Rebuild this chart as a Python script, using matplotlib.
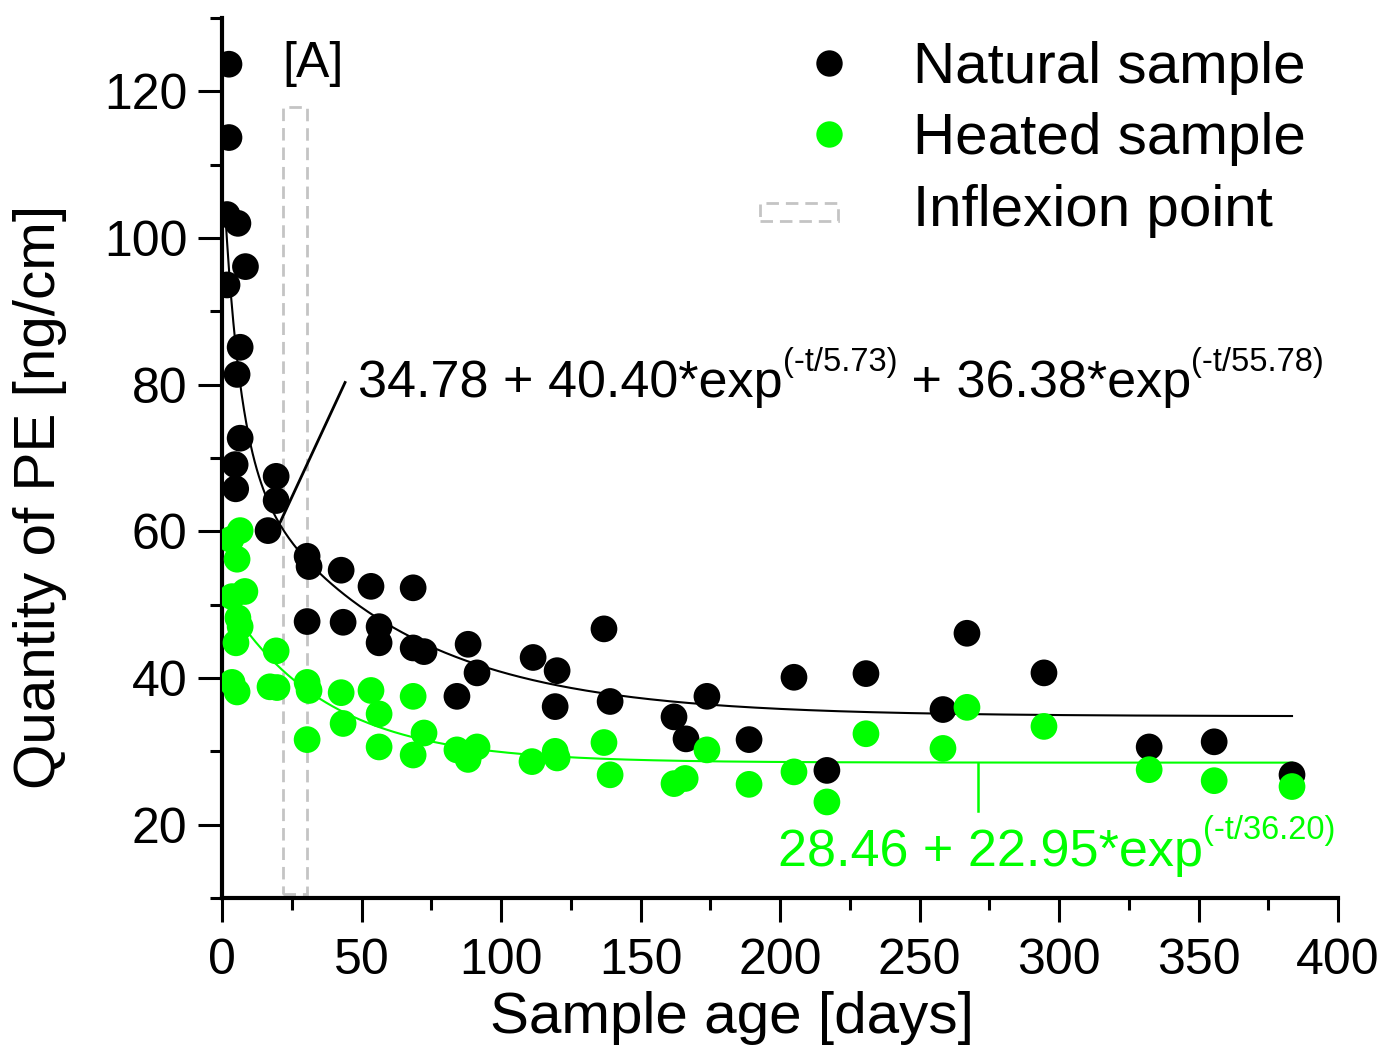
import numpy as np
import matplotlib
matplotlib.use('Agg')
import matplotlib.pyplot as plt
from matplotlib.patches import Rectangle, Patch
from matplotlib.lines import Line2D
from matplotlib.legend_handler import HandlerPatch
from matplotlib.ticker import MultipleLocator

plt.rcParams['font.family'] = ['Liberation Sans', 'DejaVu Sans']

# ---------------- data ----------------
natural_days = [2.5, 2.5, 1.8, 5.7, 1.8, 8.4, 6.5, 5.4, 6.5, 4.7, 4.9, 19.4, 19.4, 16.5,
                30.5, 31.2, 42.7, 53.4, 68.5, 30.5, 43.4, 56.3, 56.3, 68.5, 72.4, 88.2,
                91.4, 84.2, 111.5, 120.1, 119.4, 136.9, 139.1, 162.0, 166.3, 173.8,
                188.9, 205.0, 216.8, 230.8, 258.4, 267.0, 294.6, 332.3, 355.6, 383.5]
natural_pe = [123.7, 113.7, 103.2, 102.0, 93.6, 96.1, 85.1, 81.4, 72.7, 69.1, 65.8, 67.5,
              64.2, 60.1, 56.6, 55.2, 54.7, 52.5, 52.3, 47.7, 47.6, 47.0, 44.8, 44.1, 43.6,
              44.6, 40.7, 37.5, 42.8, 41.0, 36.1, 46.7, 36.8, 34.7, 31.7, 37.5, 31.6, 40.1,
              27.4, 40.6, 35.7, 46.1, 40.7, 30.6, 31.3, 26.8]

heated_days = [6.5, 3.2, 5.4, 8.2, 3.6, 5.7, 6.5, 5.0, 19.4, 3.6, 5.4, 17.2, 19.7, 30.5,
               31.2, 30.5, 42.7, 43.4, 53.4, 56.3, 56.3, 68.5, 68.5, 72.4, 84.2, 88.2, 91.4,
               111.1, 119.4, 120.1, 136.9, 139.1, 162.0, 166.0, 173.8, 188.9, 205.0, 216.8,
               230.8, 258.4, 267.0, 294.6, 332.3, 355.6, 383.5]
heated_pe = [60.1, 58.9, 56.2, 51.8, 51.1, 48.2, 47.0, 44.8, 43.7, 39.4, 38.1, 38.8, 38.7,
             39.4, 38.3, 31.6, 38.0, 33.8, 38.3, 35.1, 30.6, 37.5, 29.5, 32.5, 30.2, 28.9,
             30.6, 28.6, 30.0, 29.1, 31.2, 26.8, 25.6, 26.3, 30.2, 25.5, 27.2, 23.1, 32.4,
             30.4, 36.0, 33.4, 27.5, 26.0, 25.2]

# fit parameters printed on the chart
nat_fit = (34.78, 40.40, 5.73, 36.38, 55.78)
heat_fit = (28.46, 22.95, 36.20)
inflexion_days = (22.0, 30.5)
inflexion_pe = (10.5, 117.8)

x_ticks = [0, 50, 100, 150, 200, 250, 300, 350, 400]
y_ticks = [20, 40, 60, 80, 100, 120]

GREEN = '#00ff00'
GRAY = '#c4c4c4'

# ---------------- figure ----------------
fig = plt.figure(figsize=(13.85, 10.47), dpi=100)
ax = fig.add_axes([0.1603, 0.1423, 0.8058, 0.8405])

t_n = np.linspace(1.0, max(natural_days), 500)
a, b, c, d, e = nat_fit
ax.plot(t_n, a + b * np.exp(-t_n / c) + d * np.exp(-t_n / e), color='black', lw=1.5, zorder=2)
t_h = np.linspace(0.5, max(heated_days), 500)
a2, b2, c2 = heat_fit
ax.plot(t_h, a2 + b2 * np.exp(-t_h / c2), color=GREEN, lw=1.5, zorder=2)

ax.scatter(natural_days, natural_pe, s=370, color='black', edgecolors='none', zorder=3)
ax.scatter(heated_days, heated_pe, s=370, color=GREEN, edgecolors='none', zorder=4)

rect = Rectangle((inflexion_days[0], inflexion_pe[0]), inflexion_days[1] - inflexion_days[0],
                 inflexion_pe[1] - inflexion_pe[0], fill=False, edgecolor=GRAY,
                 lw=2.0, linestyle=(0, (4.5, 2.5)), zorder=1)
ax.add_patch(rect)

ax.set_xlim(0, 400)
ax.set_ylim(10, 130)
ax.set_xticks(x_ticks)
ax.set_yticks(y_ticks)
ax.xaxis.set_minor_locator(MultipleLocator(25))
ax.yaxis.set_minor_locator(MultipleLocator(10))
for s in ['top', 'right']:
    ax.spines[s].set_visible(False)
for s in ['left', 'bottom']:
    ax.spines[s].set_linewidth(3)
ax.tick_params(which='major', length=17, width=2.2, direction='out', labelsize=36)
ax.tick_params(which='minor', length=8.5, width=2.2, direction='out')
ax.tick_params(axis='x', pad=12)
ax.tick_params(axis='y', pad=8)

ax.set_xlabel('Sample age [days]', fontsize=42)
ax.set_ylabel('Quantity of PE [ng/cm]', fontsize=42)
ax.xaxis.set_label_coords(0.457, -0.106)
ax.yaxis.set_label_coords(-0.139, 0.456)

# annotations
ax.text(21.5, 121.9, '[A]', fontsize=36, va='baseline', ha='left')

ax.plot([20.8, 44.1], [61.2, 80.3], color='black', lw=2.0, zorder=2)
t1 = ax.text(48.7, 78.3, '34.78 + 40.40*exp', fontsize=37.5, va='baseline', ha='left')
s1 = ax.annotate('(-t/5.73)', xy=(1.0, 0.62), xycoords=t1, fontsize=23.5,
                 va='bottom', ha='left')
t2 = ax.annotate(' + 36.38*exp', xy=(1.0, 0.0), xycoords=(s1, t1), fontsize=37.5,
                 va='bottom', ha='left')
ax.annotate('(-t/55.78)', xy=(1.0, 0.62), xycoords=t2, fontsize=23.5, va='bottom', ha='left')

ax.plot([271, 271], [a2 + b2 * np.exp(-271 / c2), 21.8], color=GREEN, lw=1.8, zorder=2)
t3 = ax.text(199.3, 14.4, '28.46 + 22.95*exp', fontsize=37.5, va='baseline', ha='left',
             color=GREEN)
ax.annotate('(-t/36.20)', xy=(1.0, 0.62), xycoords=t3, fontsize=23.5, va='bottom', ha='left',
            color=GREEN)

# legend
class OffsetRectHandler(HandlerPatch):
    def create_artists(self, legend, orig_handle, xdescent, ydescent, width, height,
                       fontsize, trans):
        w = width * 1.35
        r = Rectangle((-xdescent - (w - width) - 0.33 * width, -ydescent + 0.12 * height),
                      w, 0.45 * height, fill=False, edgecolor=GRAY, lw=2.0,
                      linestyle=(0, (4.5, 2.5)), transform=trans)
        return [r]

handles = [Line2D([], [], ls='none', marker='o', ms=19, color='black', mec='none'),
           Line2D([], [], ls='none', marker='o', ms=19, color=GREEN, mec='none'),
           Patch(facecolor='none', edgecolor=GRAY)]
labels = ['Natural sample', 'Heated sample', 'Inflexion point']
fig.legend(handles, labels, loc='upper right', bbox_to_anchor=(1306 / 1385, 1 - 41 / 1047),
           bbox_transform=fig.transFigure, frameon=False, fontsize=42, borderpad=0,
           borderaxespad=0, labelspacing=0.3, handlelength=1.0, handletextpad=0.95,
           handler_map={Patch: OffsetRectHandler()})

fig.savefig('out.png', dpi=100)
